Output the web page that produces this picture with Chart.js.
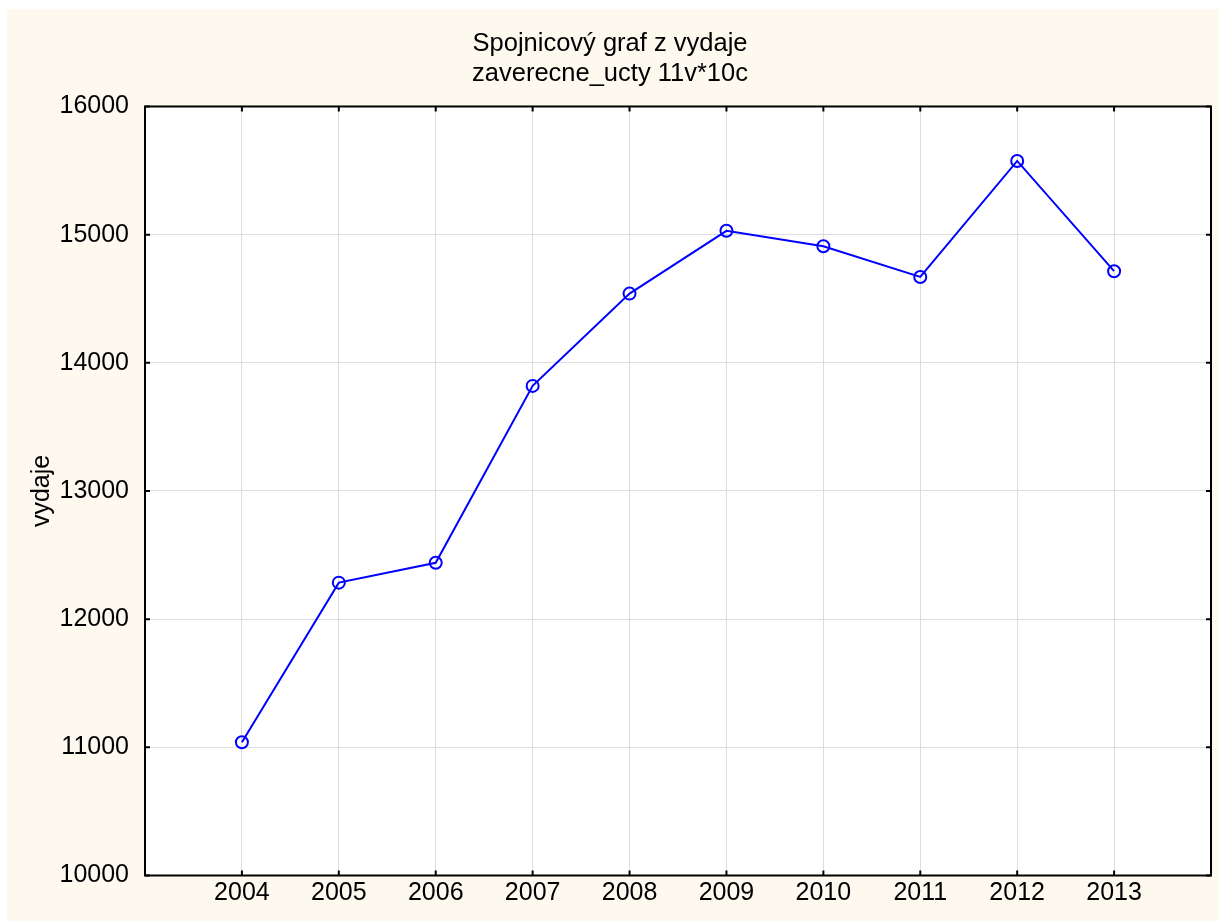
<!DOCTYPE html>
<html>
<head>
<meta charset="utf-8">
<script src="https://cdn.jsdelivr.net/npm/chart.js@4/dist/chart.umd.min.js"></script>
<style>
  html, body { margin: 0; padding: 0; background: #ffffff; }
  #wrap { position: absolute; left: 7px; top: 9px; width: 1212px; height: 912px; background: #fef9ef; }
</style>
</head>
<body>
<div id="wrap"><canvas id="chart" width="1212" height="912"></canvas></div>
<script>
// ===== DATA =====
const years = [2004, 2005, 2006, 2007, 2008, 2009, 2010, 2011, 2012, 2013];
const vydaje = [11040, 12285, 12440, 13820, 14540, 15030, 14910, 14670, 15575, 14715];
const yTicks = [10000, 11000, 12000, 13000, 14000, 15000, 16000];
const titleLines = ["Spojnicový graf z vydaje", "zaverecne_ucty 11v*10c"];

const FONT = "'Liberation Sans', Arial, sans-serif";

// white plot area + frame + inward ticks
const plotFrame = {
  id: "plotFrame",
  beforeDraw(chart) {
    const a = chart.chartArea, ctx = chart.ctx;
    ctx.save();
    ctx.fillStyle = "#ffffff";
    ctx.fillRect(a.left, a.top, a.right - a.left, a.bottom - a.top);
    ctx.restore();
  },
  afterDraw(chart) {
    const a = chart.chartArea, ctx = chart.ctx;
    const xs = chart.scales.x, ys = chart.scales.y;
    ctx.save();
    ctx.strokeStyle = "#000000";
    ctx.lineWidth = 2;
    ctx.strokeRect(a.left, a.top, a.right - a.left, a.bottom - a.top);
    ctx.beginPath();
    years.forEach(v => {
      const px = xs.getPixelForValue(v);
      ctx.moveTo(px, a.bottom); ctx.lineTo(px, a.bottom - 5);
      ctx.moveTo(px, a.top); ctx.lineTo(px, a.top + 5);
    });
    yTicks.forEach(v => {
      const py = ys.getPixelForValue(v);
      ctx.moveTo(a.left, py); ctx.lineTo(a.left + 5, py);
      ctx.moveTo(a.right, py); ctx.lineTo(a.right - 5, py);
    });
    ctx.stroke();
    ctx.restore();
  }
};

new Chart(document.getElementById("chart"), {
  type: "line",
  data: {
    datasets: [{
      data: years.map((y, i) => ({ x: y, y: vydaje[i] })),
      borderColor: "#0000ff",
      borderWidth: 2,
      backgroundColor: "transparent",
      pointStyle: "circle",
      pointRadius: 6,
      pointBorderWidth: 2,
      pointBorderColor: "#0000ff",
      pointBackgroundColor: "transparent",
      tension: 0
    }]
  },
  options: {
    responsive: false,
    animation: false,
    layout: { padding: { left: 0, right: 6, top: 0, bottom: 0 } },
    plugins: {
      legend: { display: false },
      tooltip: { enabled: false },
      title: {
        display: true,
        text: titleLines,
        color: "#000000",
        font: { family: FONT, size: 25.5, weight: "normal", lineHeight: 1.18 },
        padding: { top: 20, bottom: 17.3 }
      }
    },
    scales: {
      x: {
        type: "linear",
        min: 2003,
        max: 2014,
        afterBuildTicks: s => { s.ticks = years.map(v => ({ value: v })); },
        afterFit: s => { s.height = 45.5; },
        grid: { color: "#dddddd", lineWidth: 1, drawTicks: false },
        border: { display: false },
        ticks: {
          color: "#000000",
          font: { family: FONT, size: 25 },
          padding: 3,
          maxRotation: 0,
          callback: v => String(v)
        }
      },
      y: {
        min: 10000,
        max: 16000,
        afterBuildTicks: s => { s.ticks = yTicks.map(v => ({ value: v })); },
        afterFit: s => { s.width = 138; },
        grid: { color: "#dddddd", lineWidth: 1, drawTicks: false },
        border: { display: false },
        title: {
          display: true,
          text: "vydaje",
          color: "#000000",
          font: { family: FONT, size: 25 },
          padding: { top: 20, bottom: 0 }
        },
        ticks: {
          color: "#000000",
          font: { family: FONT, size: 25 },
          padding: 16,
          callback: v => String(v)
        }
      }
    }
  },
  plugins: [plotFrame]
});
</script>
</body>
</html>
